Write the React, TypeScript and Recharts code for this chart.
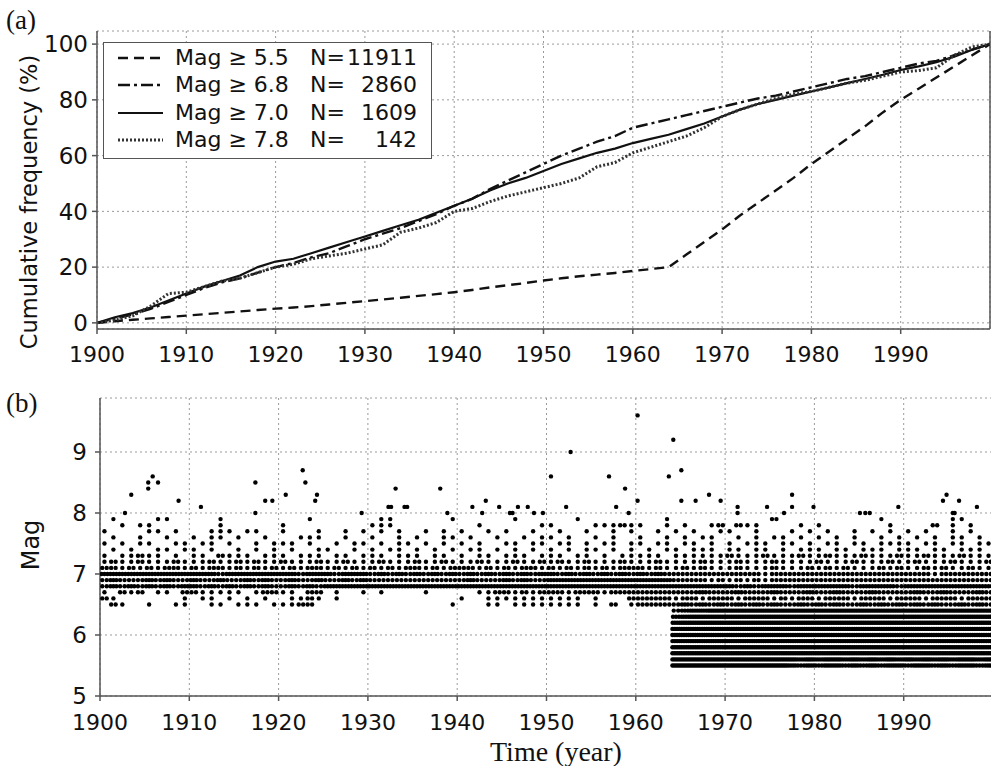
import React from "react";
import {
  LineChart, Line, ScatterChart, Scatter, XAxis, YAxis,
  CartesianGrid, ReferenceLine,
} from "recharts";

// (a) cumulative frequency (%) read every two years
const cumYears = [
  1900, 1902, 1904, 1906, 1908, 1910, 1912, 1914, 1916, 1918,
  1920, 1922, 1924, 1926, 1928, 1930, 1932, 1934, 1936, 1938,
  1940, 1942, 1944, 1946, 1948, 1950, 1952, 1954, 1956, 1958,
  1960, 1962, 1964, 1966, 1968, 1970, 1972, 1974, 1976, 1978,
  1980, 1982, 1984, 1986, 1988, 1990, 1992, 1994, 1996, 1998, 2000,
];
const cum55 = [
  0, 0.6, 1.1, 1.6, 2.1, 2.6, 3.1, 3.6, 4.1, 4.6,
  5.1, 5.5, 6.0, 6.6, 7.2, 7.8, 8.4, 9.0, 9.7, 10.3,
  11, 11.8, 12.7, 13.5, 14.3, 15.2, 16, 16.7, 17.3, 17.9,
  18.6, 19.3, 20, 24.5, 29, 33.5, 38.5, 43, 47.5, 52,
  57, 61.5, 66, 70.5, 75.5, 80, 84, 88, 92, 96, 100,
];
const cum68 = [
  0, 1.5, 3, 5, 7.5, 10, 12.5, 14.5, 16, 18,
  20, 21.5, 23.5, 25, 27.5, 30, 32, 34, 36.5, 39,
  42, 44.5, 48, 51, 54, 57, 60, 62.5, 65, 67,
  70, 71.5, 73, 74.5, 76, 77.5, 79, 80.5, 81.5, 83,
  84.5, 86, 87.5, 88.5, 90, 91.5, 93, 94, 96, 98, 100,
];
const cum70 = [
  0, 2, 3.5, 5.5, 8, 10.5, 13, 15, 17, 20,
  22, 23, 25, 27, 29, 31, 33, 35, 37, 39.5,
  42, 44.5, 47.5, 50, 52, 54.5, 57, 59, 61, 62.5,
  64.5, 66, 67.5, 69.5, 71.5, 74, 76.5, 78.5, 80, 81.5,
  83, 84.5, 86, 87.5, 89, 90.7, 92, 93.5, 95.5, 98, 100,
];
const cum78 = [
  0, 1, 2.5, 6, 10.5, 11, 13, 15, 16, 18,
  20, 21, 23, 24, 25, 26.5, 28, 32.5, 34, 36,
  40, 41, 43.5, 45.5, 47, 48.5, 50, 52, 56, 57.5,
  61, 63, 65, 67, 70, 74, 76.5, 78.5, 80.5, 82,
  83, 84.5, 86, 87, 88.5, 90, 90.5, 91.5, 96, 99, 100,
];

const legendLabels = ["Mag \u2265 5.5", "Mag \u2265 6.8", "Mag \u2265 7.0", "Mag \u2265 7.8"];
const legendCounts = ["11911", "2860", "1609", "142"];

// (b) events per year at each magnitude level, one digit per year 1900..1999
const rowMags = [
  5.5, 5.6, 5.7, 5.8, 5.9, 6.0, 6.1, 6.2, 6.3, 6.4, 6.5, 6.6, 6.7,
  6.8, 6.9, 7.0, 7.1, 7.2, 7.3, 7.4, 7.5, 7.6, 7.7, 7.8, 7.9,
];
const rowCounts = [
  "0000000000 0000000000 0000000000 0000000000 0000000000 0000000000 0000555555 5555555434 3443434344 3443434434",
  "0000000000 0000000000 0000000000 0000000000 0000000000 0000000000 0000555555 5555555545 4554545454 5454545545",
  "0000000000 0000000000 0000000000 0000000000 0000000000 0000000000 0000555555 5555555555 5555555555 5555555555",
  "0000000000 0000000000 0000000000 0000000000 0000000000 0000000000 0000555555 5555555555 5555555555 5555555555",
  "0000000000 0000000000 0000000000 0000000000 0000000000 0000000000 0000555555 5555555555 5555555555 5555555555",
  "0000000000 0000000000 0000000000 0000000000 0000000000 0000000000 0000555555 5555555555 5555555555 5555555555",
  "0000000000 0000000000 0000000000 0000000000 0000000000 0000000000 0000555555 5555555555 5555555555 5555555555",
  "0000000000 0000000000 0000000000 0000000000 0000000000 0000000000 0000455555 5555555555 5555555555 5555555555",
  "0000000000 0000000000 0000000000 0000000000 0000000000 0000000000 0000345555 5555555555 5555555555 5555555555",
  "0000000000 0000000000 0000000000 0000000000 0000000000 0000000000 0000234455 5555555555 5555555555 5555555555",
  "0210010011 0011011101 1122000000 0000000001 0001101111 1111010201 2222232323 2323232232 3232232323 2323223232",
  "2100000001 0110101010 0112101000 0000000000 1001111111 1111010002 2222122122 2122212122 1222122212 2212221222",
  "1021201102 2111110122 1102201001 0100001000 0011221212 2212221222 2222222322 2322232223 2232223222 2322322232",
  "2323232323 3232323232 2323233333 3333333333 3333333333 3333333333 3333333333 3232333233 3333233332 3333333333",
  "2322232322 3223223232 2322322323 2222222222 2322232322 3333333333 3333222212 1212122222 2222222222 2222222222",
  "3333333333 3332333333 3323332333 2323232323 2323232323 3232323232 3232222222 2222122222 2222222222 2221222222",
  "2212121221 2122121212 1212212121 2121221212 2212121221 2121212122 2121121211 1211121112 1212111212 1121211211",
  "1211211121 1121121211 2111211211 1211121121 1121112112 1211211121 1121111211 1211121111 2111211121 1211121112",
  "1011211010 1102111011 1011101101 1101110110 1011011101 1101101011 1110111111 2111211121 1211121112 1121112111",
  "0101001101 1010010101 0100110010 1011010101 0110101010 1010110101 0101101110 1101101011 1011011101 1101101110",
  "1010110011 0110100101 1101001011 0101101010 1010011011 0110101101 1011011010 1011101101 0110110111 1011011011",
  "0100100100 1011010010 0011100100 1001010011 0100100101 1010010100 1001010110 0101011010 1010100101 0101011010",
  "1000011010 0011101100 1000100101 0101001010 1001010010 0100100101 0010101001 1001000101 0100101010 1010010100",
  "0010110000 0001000000 1000000000 1110000000 0010000001 1000011121 1001010012 0211000010 1000000010 0002010100",
  "0100001100 0001000000 0001000000 0110000001 0000001000 0001000000 0001000000 0000020000 0000000100 0000011000",
];

// single large events (Mag >= 8.0)
const bigYears = [
  1902.8, 1903.5, 1905.4, 1905.4, 1905.9, 1906.5, 1908.8, 1911.3, 1917.4, 1917.4,
  1918.5, 1919.3, 1920.8, 1922.7, 1923.0, 1924.1, 1924.3, 1929.3, 1932.3, 1932.6,
  1933.1, 1934.1, 1934.4, 1938.1, 1938.9, 1941.7, 1942.8, 1943.2, 1944.7, 1945.9,
  1946.2, 1946.8, 1947.9, 1948.6, 1949.6, 1950.5, 1952.2, 1952.7, 1957.0, 1957.8,
  1958.8, 1959.2, 1960.2, 1960.2, 1963.7, 1964.2, 1965.1, 1965.1, 1966.7, 1968.2,
  1969.5, 1971.4, 1971.4, 1974.7, 1976.6, 1977.5, 1977.5, 1979.9, 1985.1, 1985.7,
  1986.2, 1989.4, 1994.4, 1994.8, 1995.5, 1995.7, 1996.2, 1998.2,
];
const bigMags = [
  8.0, 8.3, 8.5, 8.4, 8.6, 8.5, 8.2, 8.1, 8.5, 8.0,
  8.2, 8.2, 8.3, 8.7, 8.5, 8.2, 8.3, 8.0, 8.1, 8.1,
  8.4, 8.1, 8.1, 8.4, 8.0, 8.1, 8.0, 8.2, 8.1, 8.0,
  8.0, 8.1, 8.1, 8.0, 8.0, 8.6, 8.1, 9.0, 8.6, 8.1,
  8.4, 8.0, 9.6, 8.2, 8.6, 9.2, 8.7, 8.2, 8.2, 8.3,
  8.2, 8.1, 8.0, 8.1, 8.0, 8.3, 8.1, 8.1, 8.0, 8.0,
  8.0, 8.1, 8.2, 8.3, 8.0, 8.0, 8.2, 8.1,
];

const decadeTicks = [1900, 1910, 1920, 1930, 1940, 1950, 1960, 1970, 1980, 1990];

const cumData = cumYears.map((year, i) => ({
  year, m55: cum55[i], m68: cum68[i], m70: cum70[i], m78: cum78[i],
}));

const quakePoints: { t: number; mag: number }[] = [];
rowMags.forEach((mag, r) => {
  const s = rowCounts[r].replace(/ /g, "");
  for (let i = 0; i < s.length; i++) {
    const c = Number(s[i]);
    for (let k = 0; k < c; k++) quakePoints.push({ t: 1900 + i + (k + 0.5) / c, mag });
  }
});
bigYears.forEach((t, i) => quakePoints.push({ t, mag: bigMags[i] }));

const AXIS = "#555";
const GRID = "#9a9a9a";
const FONT = "DejaVu Sans";
const tickX = { fontSize: 22, fill: "#111", fontFamily: FONT };
const tickY = { fontSize: 23, fill: "#111", fontFamily: FONT };

const lineStyles = [
  { key: "m55", dash: "10 6", width: 2.4, color: "#111" },
  { key: "m68", dash: "12 4 3 4", width: 2.4, color: "#111" },
  { key: "m70", dash: undefined, width: 2.2, color: "#111" },
  { key: "m78", dash: "2 2", width: 3, color: "#333" },
];

const dot = (p: any) => <circle cx={p.cx} cy={p.cy} r={2.2} fill="#000" />;

export default function App() {
  return (
    <div style={{
      position: "absolute", left: 0, top: 0, width: 991, height: 766,
      overflow: "hidden", background: "#fff", fontFamily: FONT,
    }}>
      <div style={{ position: "absolute", left: 0, top: 0 }}>
        <LineChart width={991} height={370} data={cumData}
          margin={{ top: 31, right: 1, bottom: 0, left: 0 }}>
          <CartesianGrid stroke={GRID} strokeDasharray="2 3" />
          <XAxis dataKey="year" type="number" domain={[1900, 2000]} ticks={decadeTicks}
            allowDataOverflow height={41} tick={tickX} tickSize={5} tickMargin={12}
            stroke={AXIS} strokeWidth={1.5} />
          <XAxis xAxisId="top" orientation="top" dataKey="year" type="number"
            domain={[1900, 2000]} ticks={decadeTicks} height={0} tickSize={5}
            tickFormatter={() => ""} stroke={AXIS} strokeWidth={1.5} />
          <YAxis type="number" domain={[-2.2, 104.7]} ticks={[0, 20, 40, 60, 80, 100]}
            allowDataOverflow width={97} tick={tickY} tickSize={5} tickMargin={4}
            stroke={AXIS} strokeWidth={1.5} />
          <ReferenceLine x={2000} stroke={AXIS} strokeWidth={1.5} />
          {lineStyles.map((s) => (
            <Line key={s.key} dataKey={s.key} type="linear" dot={false}
              stroke={s.color} strokeWidth={s.width} strokeDasharray={s.dash}
              isAnimationActive={false} />
          ))}
        </LineChart>
      </div>

      <div style={{ position: "absolute", left: 0, top: 370 }}>
        <ScatterChart width={994} height={396}
          margin={{ top: 28, right: 1, bottom: 0, left: 0 }}>
          <CartesianGrid stroke={GRID} strokeDasharray="2 3" />
          <XAxis dataKey="t" type="number" domain={[1900, 2000]} ticks={decadeTicks}
            allowDataOverflow height={70} tick={tickX} tickSize={5} tickMargin={13}
            stroke={AXIS} strokeWidth={1.5} />
          <XAxis xAxisId="top" orientation="top" type="number" domain={[1900, 2000]}
            ticks={decadeTicks} height={0} tickSize={5} tickFormatter={() => ""}
            stroke={AXIS} strokeWidth={1.5} />
          <YAxis dataKey="mag" type="number" domain={[5, 9.885]} ticks={[5, 6, 7, 8, 9]}
            allowDataOverflow width={100} tick={tickY} tickSize={5} tickMargin={8}
            stroke={AXIS} strokeWidth={1.5} />
          <Scatter data={quakePoints} shape={dot} isAnimationActive={false} />
        </ScatterChart>
      </div>

      {/* legend of panel (a) */}
      <div style={{
        position: "absolute", left: 103, top: 42, width: 327, height: 115,
        border: `1.5px solid ${AXIS}`, background: "#fff",
      }}>
        {legendLabels.map((label, i) => {
          const cy = 15 + i * 27.4;
          const s = lineStyles[i];
          return (
            <React.Fragment key={label}>
              <svg style={{ position: "absolute", left: 13, top: cy - 4 }} width={47} height={8}>
                <line x1={1} y1={4} x2={46} y2={4} stroke={s.color}
                  strokeWidth={s.width} strokeDasharray={s.dash} />
              </svg>
              <span style={{ position: "absolute", left: 71, top: cy - 13, fontSize: 22, lineHeight: "26px", color: "#111", whiteSpace: "nowrap" }}>
                {label}
              </span>
              <span style={{ position: "absolute", left: 206, top: cy - 13, fontSize: 22, lineHeight: "26px", color: "#111" }}>
                N=
              </span>
              <span style={{ position: "absolute", right: 14, top: cy - 13, fontSize: 22, lineHeight: "26px", color: "#111" }}>
                {legendCounts[i]}
              </span>
            </React.Fragment>
          );
        })}
      </div>

      <div style={{ position: "absolute", left: 6, top: 5, fontFamily: "Liberation Serif", fontSize: 27, color: "#111" }}>(a)</div>
      <div style={{ position: "absolute", left: 6, top: 388, fontFamily: "Liberation Serif", fontSize: 27, color: "#111" }}>(b)</div>

      <div style={{
        position: "absolute", left: 29, top: 202, transform: "translate(-50%, -50%) rotate(-90deg)",
        whiteSpace: "nowrap", fontSize: 22.5, lineHeight: 1, color: "#111",
      }}>Cumulative frequency (%)</div>
      <div style={{
        position: "absolute", left: 31, top: 545, transform: "translate(-50%, -50%) rotate(-90deg)",
        whiteSpace: "nowrap", fontSize: 24, lineHeight: 1, color: "#111",
      }}>Mag</div>
      <div style={{
        position: "absolute", left: 490, top: 736, fontFamily: "Liberation Serif",
        fontSize: 28, color: "#111", whiteSpace: "nowrap",
      }}>Time (year)</div>
    </div>
  );
}
